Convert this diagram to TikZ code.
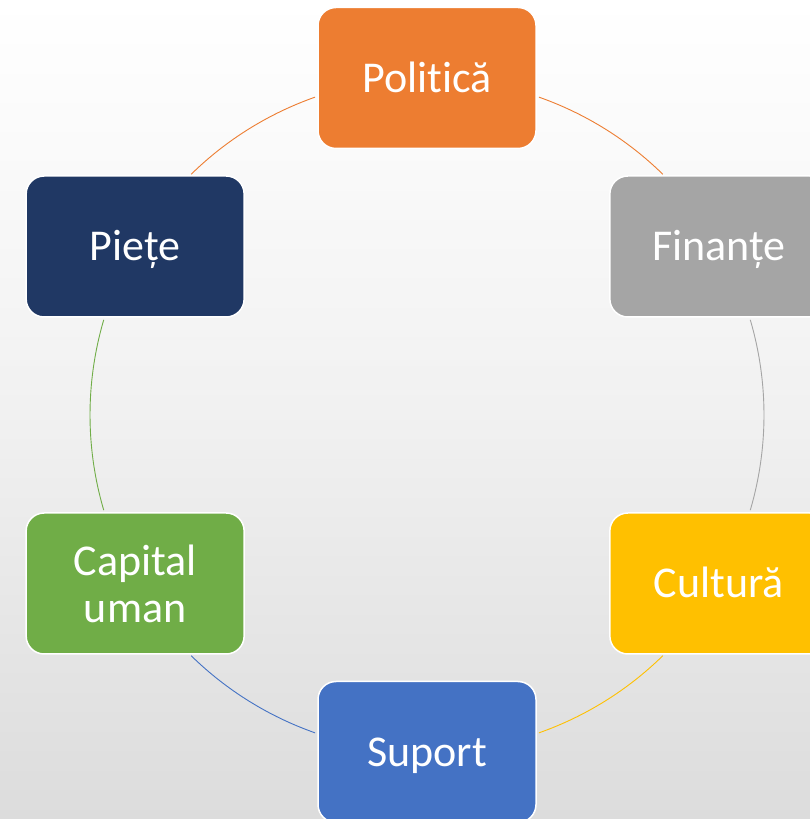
\documentclass[tikz,border=0pt]{standalone}
\usepackage{fontspec}
\setmainfont{Carlito}[Ligatures=NoCommon]
\usetikzlibrary{calc}
\definecolor{cOrange}{HTML}{ED7D31}
\definecolor{cGray}{HTML}{A5A5A5}
\definecolor{cYellow}{HTML}{FFC000}
\definecolor{cBlue}{HTML}{4472C4}
\definecolor{cGreen}{HTML}{70AD47}
\definecolor{cNavy}{HTML}{203864}
\definecolor{bgBottom}{HTML}{DCDCDC}
\begin{document}
\begin{tikzpicture}[x=1pt,y=1pt,
  cyclebox/.style={rectangle, rounded corners=18pt, minimum width=218pt, minimum height=141pt,
    draw=white, line width=1.5pt, text=white, align=center, inner sep=0pt,
    font=\fontsize{44}{47}\selectfont},
  link/.style={line width=0.9pt}]
\useasboundingbox (0,0) rectangle (810,819);
\clip (0,0) rectangle (810,819);
\shade[top color=white, bottom color=bgBottom, middle color=white!60!bgBottom] (0,0) rectangle (810,819);
\coordinate (C) at (427,404);
% connectors
\draw[link, cOrange] (C) ++(70.6:337) arc[start angle=70.6, end angle=45.6, radius=337];
\draw[link, cGray] (C) ++(16.4:337) arc[start angle=16.4, end angle=-16.4, radius=337];
\draw[link, cYellow] (C) ++(-45.6:337) arc[start angle=-45.6, end angle=-70.6, radius=337];
\draw[link, cBlue] (C) ++(-109.4:337) arc[start angle=-109.4, end angle=-134.4, radius=337];
\draw[link, cGreen] (C) ++(-163.6:337) arc[start angle=-163.6, end angle=-196.4, radius=337];
\draw[link, cOrange] (C) ++(134.4:337) arc[start angle=134.4, end angle=109.4, radius=337];
% boxes
\node[cyclebox, fill=cOrange, text height=29pt, text depth=0pt] (pol) at ($(C)+(90:337)$) {Politică};
\node[cyclebox, fill=cGray, text height=29pt, text depth=0pt] (fin) at ($(C)+(30:337)$) {Finanțe};
\node[cyclebox, fill=cYellow, text height=29pt, text depth=0pt] (cul) at ($(C)+(-30:337)$) {Cultură};
\node[cyclebox, fill=cBlue, text height=29pt, text depth=0pt] (sup) at ($(C)+(-90:337)$) {Suport};
\node[cyclebox, fill=cGreen] (cap) at ($(C)+(-150:337)$) {Capital\\uman};
\node[cyclebox, fill=cNavy, text height=29pt, text depth=0pt] (pie) at ($(C)+(150:337)$) {Piețe};
\end{tikzpicture}
\end{document}
